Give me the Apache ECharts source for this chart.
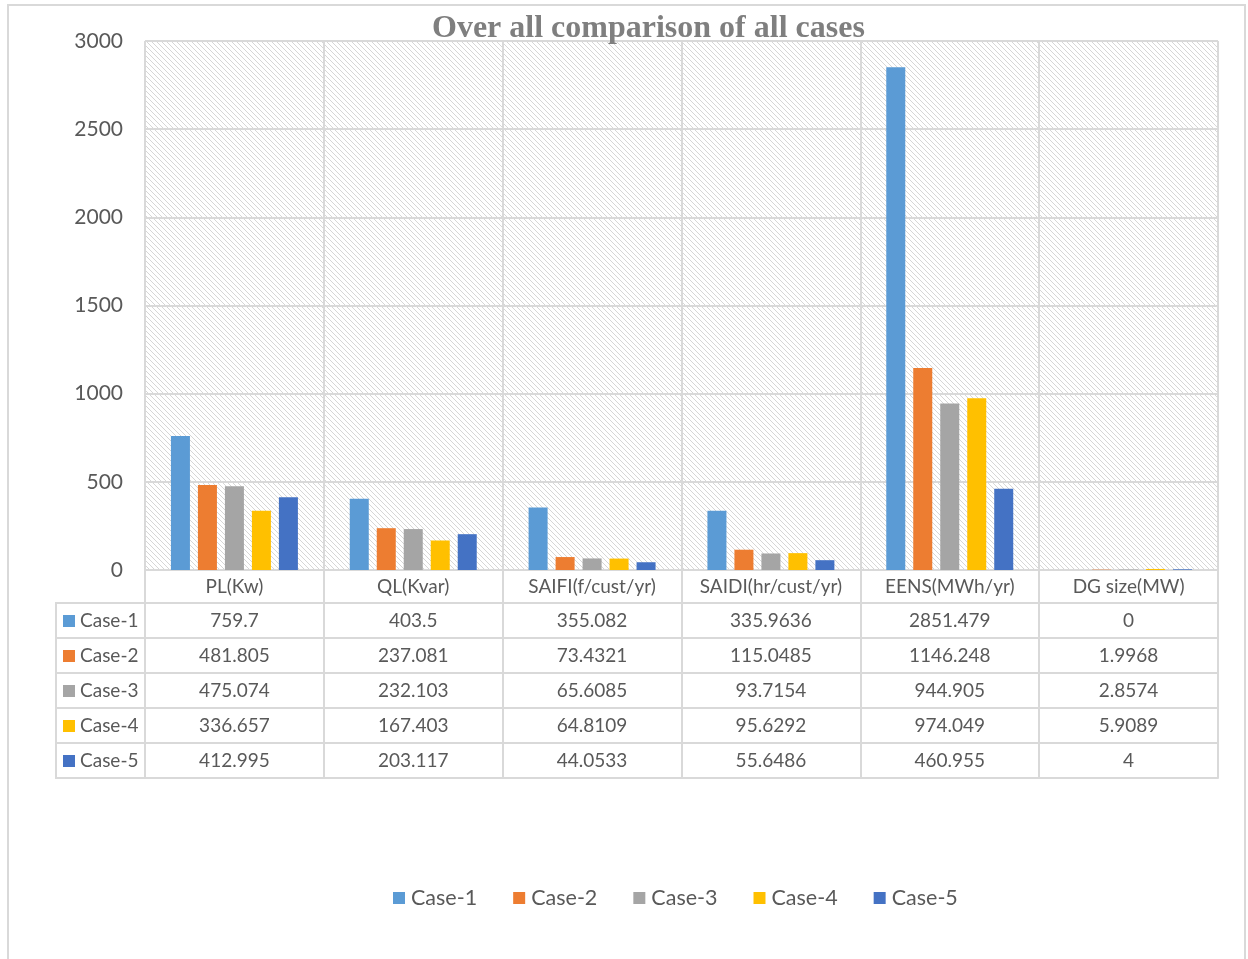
<!DOCTYPE html>
<html>
<head>
<meta charset="utf-8">
<script src="https://cdn.jsdelivr.net/npm/echarts@6/dist/echarts.min.js"></script>
<style>
  html, body { margin: 0; padding: 0; background: #ffffff; }
  #chart { width: 1248px; height: 959px; }
</style>
</head>
<body>
<div id="chart"></div>
<script>
// Categories along the x axis
const categories = ['PL(Kw)', 'QL(Kvar)', 'SAIFI(f/cust/yr)', 'SAIDI(hr/cust/yr)', 'EENS(MWh/yr)', 'DG size(MW)'];
const caseNames = ['Case-1', 'Case-2', 'Case-3', 'Case-4', 'Case-5'];

// One value per category for each case
const case1 = [759.7, 403.5, 355.082, 335.9636, 2851.479, 0];
const case2 = [481.805, 237.081, 73.4321, 115.0485, 1146.248, 1.9968];
const case3 = [475.074, 232.103, 65.6085, 93.7154, 944.905, 2.8574];
const case4 = [336.657, 167.403, 64.8109, 95.6292, 974.049, 5.9089];
const case5 = [412.995, 203.117, 44.0533, 55.6486, 460.955, 4];

// Value axis ticks
const yMin = 0, yMax = 3000, yStep = 500;

const caseValues = [case1, case2, case3, case4, case5];
const caseColors = ['#5B9BD5', '#ED7D31', '#A5A5A5', '#FFC000', '#4472C4'];

const FONT = 'Lato, "Noto Sans", sans-serif';
const TEXT = '#595959';
const LINE = '#d9d9d9';

// Layout of the plot and the data table beneath it
const gridLeft = 145, gridRight = 30, gridTop = 41, gridBottom = 389;
const labelRowH = 33, rowH = 35;
const headerLeft = 56;

// Diagonal hatch used as the plot background
function hatchTile() {
  const n = 5;
  const c = document.createElement('canvas');
  c.width = n; c.height = n;
  const g = c.getContext('2d');
  g.fillStyle = '#ffffff';
  g.fillRect(0, 0, n, n);
  g.fillStyle = '#d6d6d6';
  for (let i = 0; i < n; i++) {
    g.fillRect(i, i, 1, 1);
  }
  return c;
}

const chart = echarts.init(document.getElementById('chart'), null, { renderer: 'canvas' });

const xAxes = [{
  type: 'category',
  data: categories,
  gridIndex: 0,
  position: 'bottom',
  axisLine: { show: true, lineStyle: { color: LINE, width: 2 } },
  axisTick: { show: true, interval: 0, length: labelRowH, lineStyle: { color: LINE, width: 2 } },
  splitLine: { show: true, interval: 0, lineStyle: { color: LINE, width: 2 } },
  axisLabel: { interval: 0, fontFamily: FONT, fontSize: 19, color: TEXT, margin: 17, verticalAlign: 'middle' }
}];

// One extra axis per table row; its labels carry that case's values
caseValues.forEach(function (vals, r) {
  xAxes.push({
    type: 'category',
    data: categories,
    gridIndex: 0,
    position: 'bottom',
    offset: labelRowH + r * rowH,
    axisLine: { show: true, lineStyle: { color: LINE, width: 2 } },
    axisTick: { show: true, interval: 0, length: rowH, lineStyle: { color: LINE, width: 2 } },
    splitLine: { show: false },
    axisLabel: {
      interval: 0, fontFamily: FONT, fontSize: 19, color: TEXT, margin: 17.5, verticalAlign: 'middle',
      formatter: function (v, idx) { return String(vals[idx]); }
    }
  });
});

// Closing line under the last table row
xAxes.push({
  type: 'category',
  data: categories,
  gridIndex: 0,
  position: 'bottom',
  offset: labelRowH + caseValues.length * rowH,
  axisLine: { show: true, lineStyle: { color: LINE, width: 2 } },
  axisTick: { show: false },
  splitLine: { show: false },
  axisLabel: { show: false }
});

// Row-header column to the left of the table
const tableTop = 959 - gridBottom + labelRowH;
const frame = [];
for (let r = 0; r <= caseValues.length; r++) {
  frame.push({
    type: 'line',
    shape: { x1: headerLeft, y1: tableTop + r * rowH, x2: gridLeft, y2: tableTop + r * rowH },
    style: { stroke: LINE, lineWidth: 2 }
  });
}
frame.push({
  type: 'line',
  shape: { x1: headerLeft, y1: tableTop - 1, x2: headerLeft, y2: tableTop + caseValues.length * rowH + 1 },
  style: { stroke: LINE, lineWidth: 2 }
});
// Chart-area frame
frame.push({
  type: 'rect',
  shape: { x: 8, y: 5, width: 1237, height: 980 },
  style: { fill: null, stroke: LINE, lineWidth: 2 },
  silent: true
});

const option = {
  backgroundColor: '#ffffff',
  animation: false,
  color: caseColors,
  title: {
    text: 'Over all comparison of all cases',
    left: 427,
    top: 8,
    textStyle: { fontFamily: '"Liberation Serif", "DejaVu Serif", serif', fontWeight: 'bold', fontSize: 32, color: '#7f7f7f' }
  },
  grid: {
    left: gridLeft, right: gridRight, top: gridTop, bottom: gridBottom,
    show: true,
    borderWidth: 0,
    backgroundColor: { image: hatchTile(), repeat: 'repeat' }
  },
  legend: [{
    data: caseNames,
    selectedMode: false,
    bottom: 45,
    left: 393,
    padding: [5, 0, 5, 0],
    icon: 'rect',
    itemWidth: 12, itemHeight: 12,
    itemGap: 36,
    textStyle: { fontFamily: FONT, fontSize: 21.5, color: TEXT, padding: [0, 0, 0, 1] }
  }, {
    data: caseNames,
    selectedMode: false,
    orient: 'vertical',
    left: 63,
    top: tableTop + 8,
    padding: 0,
    icon: 'rect',
    itemWidth: 12, itemHeight: 12,
    itemGap: 15,
    textStyle: { fontFamily: FONT, fontSize: 19, color: TEXT, lineHeight: 20 }
  }],
  xAxis: xAxes,
  yAxis: {
    type: 'value',
    min: yMin, max: yMax, interval: yStep,
    axisLine: { show: false },
    axisTick: { show: false },
    splitLine: { show: true, lineStyle: { color: LINE, width: 2 } },
    axisLabel: {
      fontFamily: FONT, fontSize: 21, color: TEXT, margin: 22,
      formatter: function (v) { return String(v); }
    }
  },
  graphic: frame,
  series: caseValues.map(function (vals, i) {
    return {
      name: caseNames[i],
      type: 'bar',
      xAxisIndex: 0,
      data: vals,
      barGap: '42%',
      barCategoryGap: '29%',
      itemStyle: { color: caseColors[i] }
    };
  })
};

chart.setOption(option);
</script>
</body>
</html>
